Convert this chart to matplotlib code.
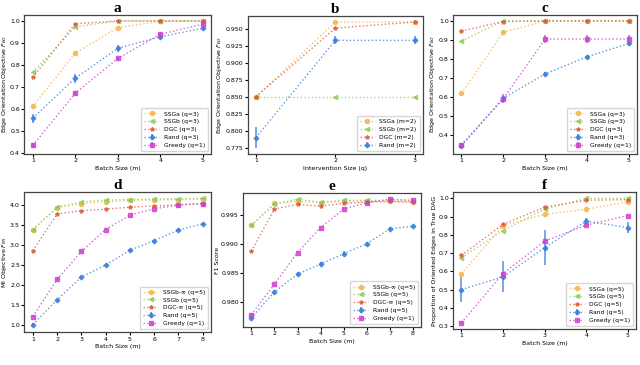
import matplotlib
matplotlib.use("Agg")
from matplotlib import pyplot as plt

# colours / markers per method
colors = {'SSGa': '#f5b445', 'SSGb': '#8cce5c', 'DGC': '#e05a3a', 'Rand': '#3a7fd9', 'Greedy': '#cc3fcf'}
markers = {'SSGa': 'o', 'SSGb': '<', 'DGC': '*', 'Rand': 'P', 'Greedy': 's'}

# panel a: edge orientation vs batch size
a_x = [1, 2, 3, 4, 5]
a_ssga = [0.613, 0.855, 0.970, 0.998, 1.0]
a_ssgb = [0.768, 0.973, 1.0, 1.0, 1.0]
a_dgc = [0.745, 0.987, 1.0, 1.0, 1.0]
a_rand = [0.560, 0.741, 0.876, 0.928, 0.967]
a_rand_err = [0.020, 0.020, 0.015, 0.008, 0.008]
a_greedy = [0.436, 0.673, 0.830, 0.940, 0.985]
a_greedy_err = [0.010, 0.010, 0.008, 0.005, 0.005]

# panel b: edge orientation vs intervention size
b_x = [1, 2, 3]
b_ssga = [0.850, 0.960, 0.960]
b_ssgb = [0.850, 0.850, 0.850]
b_dgc = [0.850, 0.951, 0.960]
b_rand = [0.790, 0.933, 0.933]
b_rand_err = [0.015, 0.006, 0.006]

# panel c
c_x = [1, 2, 3, 4, 5]
c_ssga = [0.620, 0.940, 1.0, 1.0, 1.0]
c_ssgb = [0.895, 1.0, 1.0, 1.0, 1.0]
c_dgc = [0.947, 0.997, 1.0, 1.0, 1.0]
c_rand = [0.345, 0.595, 0.722, 0.812, 0.882]
c_rand_err = [0.010, 0.012, 0.012, 0.008, 0.012]
c_greedy = [0.350, 0.592, 0.905, 0.905, 0.905]
c_greedy_err = [0.008, 0.025, 0.020, 0.020, 0.020]

# panel d: MI objective
d_x = [1, 2, 3, 4, 5, 6, 7, 8]
d_ssgbinf = [3.37, 3.93, 4.03, 4.08, 4.11, 4.12, 4.13, 4.14]
d_ssgb = [3.38, 3.94, 4.07, 4.12, 4.13, 4.14, 4.15, 4.16]
d_dgcinf = [2.85, 3.77, 3.85, 3.89, 3.94, 3.97, 4.00, 4.03]
d_rand = [1.00, 1.62, 2.19, 2.49, 2.86, 3.10, 3.37, 3.52]
d_rand_err = [0.03, 0.03, 0.03, 0.03, 0.03, 0.03, 0.03, 0.03]
d_greedy = [1.20, 2.13, 2.83, 3.38, 3.74, 3.90, 3.99, 4.03]

# panel e: F1 score
e_x = [1, 2, 3, 4, 5, 6, 7, 8]
e_ssgbinf = [0.9932, 0.9970, 0.9973, 0.9971, 0.9973, 0.9973, 0.9973, 0.9972]
e_ssgb = [0.9932, 0.9968, 0.9977, 0.9972, 0.9975, 0.9975, 0.9975, 0.9974]
e_dgcinf = [0.9887, 0.9960, 0.9968, 0.9965, 0.9970, 0.9972, 0.9973, 0.9972]
e_rand = [0.9772, 0.9817, 0.9848, 0.9865, 0.9883, 0.9900, 0.9926, 0.9930]
e_rand_err = [0.0005, 0.0004, 0.0004, 0.0004, 0.0004, 0.0004, 0.0003, 0.0003]
e_greedy = [0.9778, 0.9830, 0.9885, 0.9928, 0.9960, 0.9971, 0.9977, 0.9975]

# panel f: proportion of oriented edges
f_x = [1, 2, 3, 4, 5]
f_ssga = [0.588, 0.850, 0.912, 0.940, 0.982]
f_ssgb = [0.675, 0.823, 0.940, 1.0, 1.0]
f_dgc = [0.688, 0.857, 0.952, 0.990, 0.993]
f_rand = [0.500, 0.570, 0.730, 0.875, 0.840]
f_rand_err = [0.068, 0.085, 0.095, 0.015, 0.030]
f_greedy = [0.318, 0.588, 0.765, 0.853, 0.906]


def draw(ax, x, y, key, label, err=None):
    ax.errorbar(x, y, yerr=err, color=colors[key], marker=markers[key], markersize=3,
                linestyle=':', linewidth=1.0, elinewidth=1.2, capsize=0, alpha=0.8, label=label)


def style(ax, title, xlabel, ylabel, xticks):
    ax.set_title(title, fontsize=11, fontweight='bold', family='Liberation Serif', pad=0)
    ax.set_xlabel(xlabel, fontsize=4.5, labelpad=1.5)
    ax.set_ylabel(ylabel, fontsize=4.5, labelpad=1)
    ax.set_xticks(xticks)
    ax.tick_params(labelsize=4.5, length=2, pad=1.2)
    for s in ax.spines.values():
        s.set_color('#444444')
        s.set_linewidth(0.9)
    ax.legend(loc='lower right', fontsize=4.3, handlelength=2.5, borderpad=0.5, labelspacing=0.45)


fig = plt.figure(figsize=(6.4, 3.65), dpi=100)

ax = fig.add_axes([0.038, 0.578, 0.292, 0.382])
draw(ax, a_x, a_ssga, 'SSGa', 'SSGa (q=3)')
draw(ax, a_x, a_ssgb, 'SSGb', 'SSGb (q=3)')
draw(ax, a_x, a_dgc, 'DGC', 'DGC (q=3)')
draw(ax, a_x, a_rand, 'Rand', 'Rand (q=3)', a_rand_err)
draw(ax, a_x, a_greedy, 'Greedy', 'Greedy (q=1)', a_greedy_err)
style(ax, 'a', 'Batch Size (m)', 'Edge Orientation Objective $F_{EO}$', a_x)

ax = fig.add_axes([0.3875, 0.578, 0.273, 0.379])
draw(ax, b_x, b_ssga, 'SSGa', 'SSGa (m=2)')
draw(ax, b_x, b_ssgb, 'SSGb', 'SSGb (m=2)')
draw(ax, b_x, b_dgc, 'DGC', 'DGC (m=2)')
draw(ax, b_x, b_rand, 'Rand', 'Rand (m=2)', b_rand_err)
style(ax, 'b', 'Intervention Size (q)', 'Edge Orientation Objective $F_{EO}$', b_x)

ax = fig.add_axes([0.708, 0.578, 0.2875, 0.382])
draw(ax, c_x, c_ssga, 'SSGa', 'SSGa (q=3)')
draw(ax, c_x, c_ssgb, 'SSGb', 'SSGb (q=3)')
draw(ax, c_x, c_dgc, 'DGC', 'DGC (q=3)')
draw(ax, c_x, c_rand, 'Rand', 'Rand (q=3)', c_rand_err)
draw(ax, c_x, c_greedy, 'Greedy', 'Greedy (q=1)', c_greedy_err)
style(ax, 'c', 'Batch Size (m)', 'Edge Orientation Objective $F_{EO}$', c_x)

ax = fig.add_axes([0.038, 0.090, 0.292, 0.384])
draw(ax, d_x, d_ssgbinf, 'SSGa', 'SSGb-\u221e (q=5)')
draw(ax, d_x, d_ssgb, 'SSGb', 'SSGb (q=5)')
draw(ax, d_x, d_dgcinf, 'DGC', 'DGC-\u221e (q=5)')
draw(ax, d_x, d_rand, 'Rand', 'Rand (q=5)', d_rand_err)
draw(ax, d_x, d_greedy, 'Greedy', 'Greedy (q=1)')
style(ax, 'd', 'Batch Size (m)', 'MI Objective $F_{MI}$', d_x)

ax = fig.add_axes([0.380, 0.104, 0.278, 0.367])
draw(ax, e_x, e_ssgbinf, 'SSGa', 'SSGb-\u221e (q=5)')
draw(ax, e_x, e_ssgb, 'SSGb', 'SSGb (q=5)')
draw(ax, e_x, e_dgcinf, 'DGC', 'DGC-\u221e (q=5)')
draw(ax, e_x, e_rand, 'Rand', 'Rand (q=5)', e_rand_err)
draw(ax, e_x, e_greedy, 'Greedy', 'Greedy (q=1)')
style(ax, 'e', 'Batch Size (m)', 'F1 Score', e_x)

ax = fig.add_axes([0.708, 0.0986, 0.286, 0.375])
draw(ax, f_x, f_ssga, 'SSGa', 'SSGa (q=5)')
draw(ax, f_x, f_ssgb, 'SSGb', 'SSGb (q=5)')
draw(ax, f_x, f_dgc, 'DGC', 'DGC (q=5)')
draw(ax, f_x, f_rand, 'Rand', 'Rand (q=5)', f_rand_err)
draw(ax, f_x, f_greedy, 'Greedy', 'Greedy (q=1)')
style(ax, 'f', 'Batch Size (m)', 'Proportion of Oriented Edges in True DAG', f_x)

fig.savefig('out.png', dpi=100)
